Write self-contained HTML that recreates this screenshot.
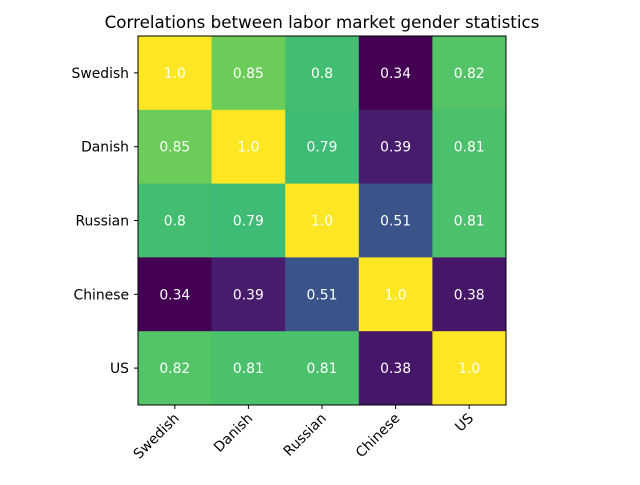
<!DOCTYPE html>
<html><head><meta charset="utf-8"><style>
body{margin:0;background:#fff;}
svg text{font-family:"DejaVu Sans","Liberation Sans",sans-serif;}
</style></head><body>
<svg id="chart" width="640" height="480" xmlns="http://www.w3.org/2000/svg">
<text x="322" y="28" text-anchor="middle" font-size="16.7">Correlations between labor market gender statistics</text>
<g id="cells"></g>
<g id="labels"></g>
<rect x="138" y="36" width="368" height="369" fill="none" stroke="#000" stroke-width="1"/>
</svg>
<script>
const categories = ["Swedish","Danish","Russian","Chinese","US"];
const row0 = [1.0,0.85,0.8,0.34,0.82];
const row1 = [0.85,1.0,0.79,0.39,0.81];
const row2 = [0.8,0.79,1.0,0.51,0.81];
const row3 = [0.34,0.39,0.51,1.0,0.38];
const row4 = [0.82,0.81,0.81,0.38,1.0];
const matrix = [row0,row1,row2,row3,row4];

const X0=138,X1=506,Y0=36,Y1=405;
const n=categories.length;
const cw=(X1-X0)/n, ch=(Y1-Y0)/n;
const xPos=i=>X0+i*cw, yPos=i=>Y0+i*ch;
const all=matrix.flat();
const vmin=Math.min(...all), vmax=Math.max(...all);
const vir=["#440154","#482475","#414487","#355f8d","#2a788e","#21918c","#22a884","#44bf70","#7ad151","#bddf26","#fde725"];
function hex(h){return [1,3,5].map(k=>parseInt(h.substr(k,2),16));}
function color(v){
  let t=(v-vmin)/(vmax-vmin); t=Math.max(0,Math.min(1,t));
  const p=t*10, i=Math.min(9,Math.floor(p)), f=p-i;
  const a=hex(vir[i]), b=hex(vir[i+1]);
  return "rgb("+a.map((c,k)=>Math.round(c+(b[k]-c)*f)).join(",")+")";
}
const NS="http://www.w3.org/2000/svg";
const cells=document.getElementById("cells"), labels=document.getElementById("labels");
for(let r=0;r<n;r++)for(let c=0;c<n;c++){
  const v=matrix[r][c];
  const rect=document.createElementNS(NS,"rect");
  rect.setAttribute("x",xPos(c));rect.setAttribute("y",yPos(r));
  rect.setAttribute("width",cw+0.5);rect.setAttribute("height",ch+0.5);
  rect.setAttribute("fill",color(v));
  
  
  cells.appendChild(rect);
  const t=document.createElementNS(NS,"text");
  t.setAttribute("x",xPos(c)+cw/2);t.setAttribute("y",yPos(r)+ch/2+5);
  t.setAttribute("text-anchor","middle");t.setAttribute("font-size","13.9");t.setAttribute("fill","#fff");
  t.textContent=Number.isInteger(v)?v.toFixed(1):String(v);
  
  
  cells.appendChild(t);
}
categories.forEach((name,i)=>{
  const cy=yPos(i)+ch/2;
  const tk=document.createElementNS(NS,"line");
  tk.setAttribute("x1",X0-4);tk.setAttribute("x2",X0);tk.setAttribute("y1",cy);tk.setAttribute("y2",cy);tk.setAttribute("stroke","#000");
  
  
  labels.appendChild(tk);
  const yl=document.createElementNS(NS,"text");
  yl.setAttribute("x",X0-9);yl.setAttribute("y",cy+5);yl.setAttribute("text-anchor","end");yl.setAttribute("font-size","13.9");
  yl.textContent=name;
  
  
  labels.appendChild(yl);
  const cx=xPos(i)+cw/2;
  const tx=document.createElementNS(NS,"line");
  tx.setAttribute("x1",cx);tx.setAttribute("x2",cx);tx.setAttribute("y1",Y1);tx.setAttribute("y2",Y1+4);tx.setAttribute("stroke","#000");
  
  
  labels.appendChild(tx);
  const xl=document.createElementNS(NS,"text");
  xl.setAttribute("transform","translate("+(cx+5)+","+(Y1+14)+") rotate(-45)");
  xl.setAttribute("text-anchor","end");xl.setAttribute("font-size","13.9");
  xl.textContent=name;
  
  
  labels.appendChild(xl);
});
</script>
</body></html>
